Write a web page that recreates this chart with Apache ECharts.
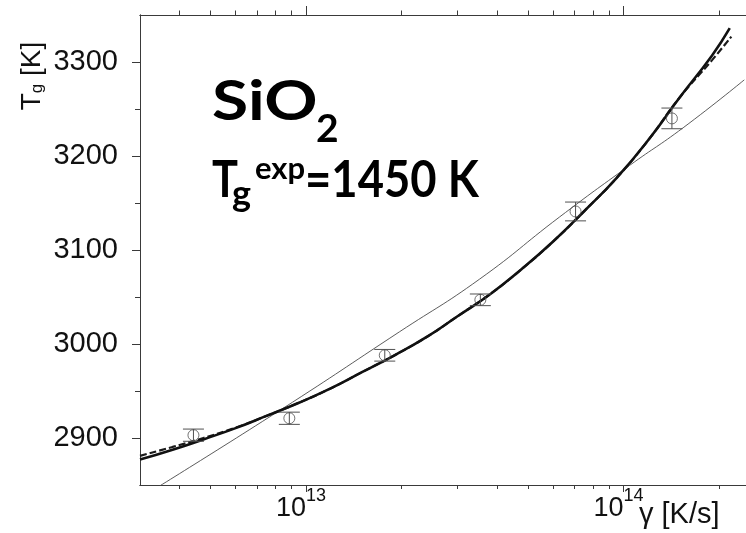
<!DOCTYPE html>
<html>
<head>
<meta charset="utf-8">
<script src="https://cdn.jsdelivr.net/npm/echarts@6/dist/echarts.min.js"></script>
<style>
  html, body { margin: 0; padding: 0; background: #fff; }
  #chart { width: 746px; height: 533px; }
</style>
</head>
<body>
<div id="chart"></div>
<script>
// Glass transition temperature of SiO2 versus cooling rate gamma (K/s)

// simulated Tg with error bars
const rateMeasured = [4.42e12, 8.86e12, 1.77e13, 3.54e13, 7.06e13, 1.42e14];
const tgMeasured   = [2903, 2921, 2988, 3047, 3141, 3240];
const tgError      = [6.5, 6.5, 6.2, 6.2, 10, 11];

// fit curve (solid)
const rateFitSolid = [3.0e12, 3.8e12, 4.75e12, 6.0e12, 7.5e12, 9.5e12, 1.2e13, 1.5e13, 1.9e13, 2.4e13,
                      3.0e13, 3.8e13, 4.75e13, 6.0e13, 7.5e13, 9.5e13, 1.2e14, 1.5e14, 1.9e14, 2.16e14];
const tgFitSolid   = [2877, 2887.5, 2898.5, 2910.5, 2923.5, 2937.5, 2953, 2970, 2988, 3007.5,
                      3029.5, 3053, 3079, 3109, 3141, 3176.5, 3217.5, 3262, 3307, 3336];

// fit curve (dashed)
const rateFitDashed = [3.0e12, 3.8e12, 4.75e12, 6.0e12, 7.5e12, 9.5e12, 1.2e13, 1.5e13, 1.9e13, 2.4e13,
                       3.0e13, 3.8e13, 4.75e13, 6.0e13, 7.5e13, 9.5e13, 1.2e14, 1.5e14, 1.9e14, 2.185e14];
const tgFitDashed   = [2881, 2890.5, 2900, 2911, 2923.5, 2937.5, 2953, 2970, 2988, 3007.5,
                       3029.5, 3053, 3079, 3109, 3141, 3176.5, 3217.5, 3262, 3302, 3327];

// Arrhenius-type fit (thin line)
const rateFitThin = [3.0e12, 8.41e12, 1.97e13, 3.52e13, 6.28e13, 1.045e14, 1.54e14, 2.40e14];
const tgFitThin   = [2836, 2931, 3013, 3069, 3135, 3190, 3230, 3281];

// axis ranges and ticks
const rateRange    = [3e12, 2.43e14];
const tgRange      = [2850, 3350];
const rateMajor    = [1e13, 1e14];
const rateMinor    = [4e12, 5e12, 6e12, 7e12, 8e12, 9e12,
                      2e13, 3e13, 4e13, 5e13, 6e13, 7e13, 8e13, 9e13, 2e14];
const tgMajor      = [2900, 3000, 3100, 3200, 3300];
const tgMinor      = [2950, 3050, 3150, 3250];

const lg = Math.log10;
const pairs = (xs, ys) => xs.map((x, i) => [lg(x), ys[i]]);

const AXIS_COLOR = '#3a3a3a';
const TICK_FONT = "'Liberation Sans', Arial, Helvetica, sans-serif";
const TITLE_FONT = "Lato, 'Open Sans', sans-serif";

function xAxisDef(pos, ticks, len, showLabel) {
  return {
    type: 'value',
    position: pos,
    min: lg(rateRange[0]),
    max: lg(rateRange[1]),
    axisLine: { show: true, onZero: false, lineStyle: { color: AXIS_COLOR, width: 1 } },
    axisTick: { show: true, inside: false, length: len, customValues: ticks.map(lg),
                lineStyle: { color: AXIS_COLOR, width: 1 } },
    axisLabel: showLabel ? {
      show: true,
      customValues: ticks.map(lg),
      margin: 2,
      padding: [0, 10, 0, 0],
      formatter: v => '{b|10}{s|' + Math.round(v) + '}',
      rich: {
        b: { fontFamily: TICK_FONT, fontSize: 27, color: '#111', lineHeight: 44 },
        s: { fontFamily: TICK_FONT, fontSize: 18, color: '#111', lineHeight: 16, verticalAlign: 'top' }
      }
    } : { show: false },
    splitLine: { show: false }
  };
}

function yAxisDef(ticks, len, showLabel) {
  return {
    type: 'value',
    position: 'left',
    min: tgRange[0],
    max: tgRange[1],
    axisLine: { show: true, onZero: false, lineStyle: { color: AXIS_COLOR, width: 1 } },
    axisTick: { show: true, inside: false, length: len, customValues: ticks,
                lineStyle: { color: AXIS_COLOR, width: 1 } },
    axisLabel: showLabel ? {
      show: true, customValues: ticks, margin: 22,
      formatter: v => String(v),
      fontFamily: TICK_FONT, fontSize: 29, color: '#111'
    } : { show: false },
    splitLine: { show: false }
  };
}

const chart = echarts.init(document.getElementById('chart'), null, { renderer: 'canvas' });

const curveCommon = { type: 'line', smooth: 0.5, showSymbol: false, clip: true };

chart.setOption({
  animation: false,
  backgroundColor: '#fff',
  grid: { left: 140, right: 0, top: 15, bottom: 48, outerBoundsMode: 'none' },
  xAxis: [
    xAxisDef('bottom', rateMajor, 7, true),
    xAxisDef('bottom', rateMinor, 4, false),
    xAxisDef('top', rateMajor, 9, false),
    xAxisDef('top', rateMinor, 4.5, false)
  ],
  yAxis: [
    yAxisDef(tgMajor, 8, true),
    yAxisDef(tgMinor, 5, false)
  ],
  series: [
    Object.assign({}, curveCommon, {
      name: 'Arrhenius fit',
      data: pairs(rateFitThin, tgFitThin),
      lineStyle: { color: '#4a4a4a', width: 0.9 },
      z: 2
    }),
    Object.assign({}, curveCommon, {
      name: 'fit (dashed)',
      data: pairs(rateFitDashed, tgFitDashed),
      lineStyle: { color: '#1a1a1a', width: 2.2, type: [7, 3] },
      z: 3
    }),
    Object.assign({}, curveCommon, {
      name: 'fit',
      data: pairs(rateFitSolid, tgFitSolid),
      lineStyle: { color: '#111', width: 2.6 },
      z: 4
    }),
    {
      name: 'error',
      type: 'custom',
      data: rateMeasured.map((r, i) => [lg(r), tgMeasured[i], tgError[i]]),
      renderItem: function (params, api) {
        const x = api.value(0), y = api.value(1), e = api.value(2);
        const hi = api.coord([x, y + e]);
        const lo = api.coord([x, y - e]);
        const half = 10.5;
        const st = { stroke: '#505050', lineWidth: 1, fill: null };
        return {
          type: 'group',
          children: [
            { type: 'line', shape: { x1: hi[0], y1: hi[1], x2: lo[0], y2: lo[1] }, style: st },
            { type: 'line', shape: { x1: hi[0] - half, y1: hi[1], x2: hi[0] + half, y2: hi[1] }, style: st },
            { type: 'line', shape: { x1: lo[0] - half, y1: lo[1], x2: lo[0] + half, y2: lo[1] }, style: st }
          ]
        };
      },
      z: 5
    },
    {
      name: 'Tg',
      type: 'scatter',
      data: pairs(rateMeasured, tgMeasured),
      symbol: 'circle',
      symbolSize: 11,
      itemStyle: { color: 'rgba(255,255,255,0)', borderColor: '#505050', borderWidth: 1 },
      z: 6
    }
  ],
  graphic: [
    // y axis title, rotated
    {
      type: 'text', x: 32, y: 76, rotation: Math.PI / 2, z: 10,
      style: {
        text: '{t|T}{g|g}{k| [K]}',
        align: 'center', verticalAlign: 'middle',
        rich: {
          t: { fontFamily: TICK_FONT, fontSize: 28, lineHeight: 28, verticalAlign: 'top', fill: '#111' },
          g: { fontFamily: TICK_FONT, fontSize: 17, lineHeight: 17, padding: [20, 0, 0, 0], verticalAlign: 'bottom', fill: '#111' },
          k: { fontFamily: TICK_FONT, fontSize: 28, lineHeight: 28, verticalAlign: 'top', fill: '#111' }
        }
      }
    },
    // x axis title
    {
      type: 'text', x: 639, y: 500, z: 10,
      style: { text: 'γ [K/s]', fontFamily: TICK_FONT, fontSize: 29, fill: '#111',
               align: 'left', verticalAlign: 'top' }
    },
    // compound label
    { type: 'text', x: 212, y: 75, scaleX: 1.2, z: 10,
      style: { text: 'SiO', fontFamily: TITLE_FONT, fontWeight: 'bold', fontSize: 55, fill: '#000',
               align: 'left', verticalAlign: 'top' } },
    { type: 'text', x: 316, y: 110, z: 10,
      style: { text: '2', fontFamily: TITLE_FONT, fontWeight: 'bold', fontSize: 39, fill: '#000',
               align: 'left', verticalAlign: 'top' } },
    // experimental Tg label
    { type: 'text', x: 212, y: 155, scaleX: 0.85, z: 10,
      style: { text: 'T', fontFamily: TITLE_FONT, fontWeight: 'bold', fontSize: 51, fill: '#000',
               align: 'left', verticalAlign: 'top' } },
    { type: 'text', x: 232, y: 176, z: 10,
      style: { text: 'g', fontFamily: TITLE_FONT, fontWeight: 'bold', fontSize: 36, fill: '#000',
               align: 'left', verticalAlign: 'top' } },
    { type: 'text', x: 255, y: 153, z: 10,
      style: { text: 'exp', fontFamily: TITLE_FONT, fontWeight: 'bold', fontSize: 31, fill: '#000',
               align: 'left', verticalAlign: 'top' } },
    { type: 'text', x: 305, y: 155, scaleX: 0.89, z: 10,
      style: { text: '=1450 K', fontFamily: TITLE_FONT, fontWeight: 'bold', fontSize: 51, fill: '#000',
               align: 'left', verticalAlign: 'top' } }
  ]
});
</script>
</body>
</html>
